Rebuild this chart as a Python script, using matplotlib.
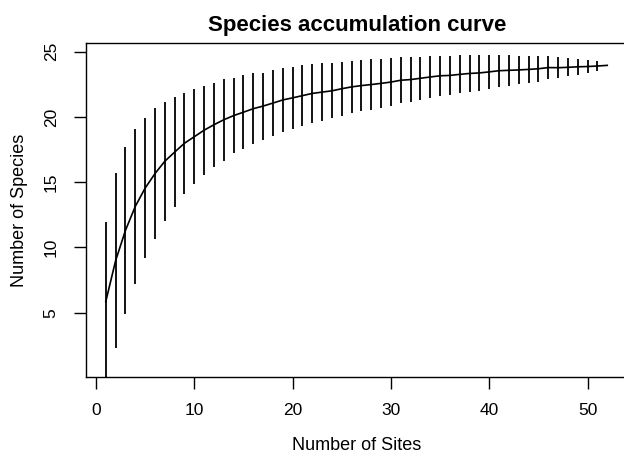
import matplotlib
matplotlib.use("Agg")
import matplotlib.pyplot as plt
import numpy as np

sites = list(range(1, 53))
richness = [5.85, 8.98, 11.30, 13.14, 14.54, 15.65, 16.60, 17.30, 17.98, 18.48,
            18.98, 19.40, 19.78, 20.10, 20.36, 20.63, 20.83, 21.06, 21.30, 21.46,
            21.63, 21.80, 21.90, 22.00, 22.16, 22.30, 22.40, 22.48, 22.57, 22.67,
            22.81, 22.86, 22.96, 23.06, 23.15, 23.18, 23.26, 23.33, 23.37, 23.45,
            23.54, 23.57, 23.60, 23.64, 23.69, 23.78, 23.77, 23.80, 23.84, 23.86,
            23.90, 23.95]
sd = [6.10, 6.70, 6.40, 5.94, 5.37, 5.04, 4.57, 4.19, 3.88, 3.64,
      3.42, 3.23, 3.15, 2.90, 2.85, 2.73, 2.57, 2.56, 2.43, 2.40,
      2.33, 2.25, 2.20, 2.10, 2.08, 2.00, 1.96, 1.94, 1.90, 1.83,
      1.76, 1.71, 1.66, 1.63, 1.55, 1.49, 1.45, 1.39, 1.38, 1.30,
      1.21, 1.17, 1.10, 1.06, 0.98, 0.89, 0.80, 0.70, 0.62, 0.51,
      0.35, 0.0]
xticks = [0, 10, 20, 30, 40, 50]
yticks = [5, 10, 15, 20, 25]

plt.rcParams['font.family'] = ['Liberation Sans', 'DejaVu Sans']

W, H = 624, 454
fig = plt.figure(figsize=(W / 100, H / 100), dpi=100)
left, right, top, bottom = 85.7, 627.3, 43.3, 377.3
ax = fig.add_axes([left / W, 1 - bottom / H, (right - left) / W, (bottom - top) / H])

s = np.array(sites)
r = np.array(richness)
e = np.array(sd)
ax.vlines(s, r - e, r + e, color='black', lw=1.3)
ax.plot(s, r, color='black', lw=1.2)

ax.set_xlim(-1.04, 54.04)
ax.set_ylim(0.05, 25.64)
ax.set_xticks(xticks)
ax.set_yticks(yticks)
ax.tick_params(axis='both', length=8.4, width=1.0, labelsize=12.5, color='black')
ax.tick_params(axis='x', pad=10)
ax.tick_params(axis='y', pad=11)
for lab in ax.get_yticklabels():
    lab.set_rotation(90)
    lab.set_va('center')
for sp in ax.spines.values():
    sp.set_linewidth(1.0)

ax.set_xlabel('Number of Sites', fontsize=13, labelpad=14)
ax.set_ylabel('Number of Species', fontsize=13, labelpad=11)
fig.text(357 / W, 1 - 31.5 / H, 'Species accumulation curve', ha='center', va='baseline',
         fontsize=16, fontweight='bold')

fig.savefig('out.png', dpi=100)
